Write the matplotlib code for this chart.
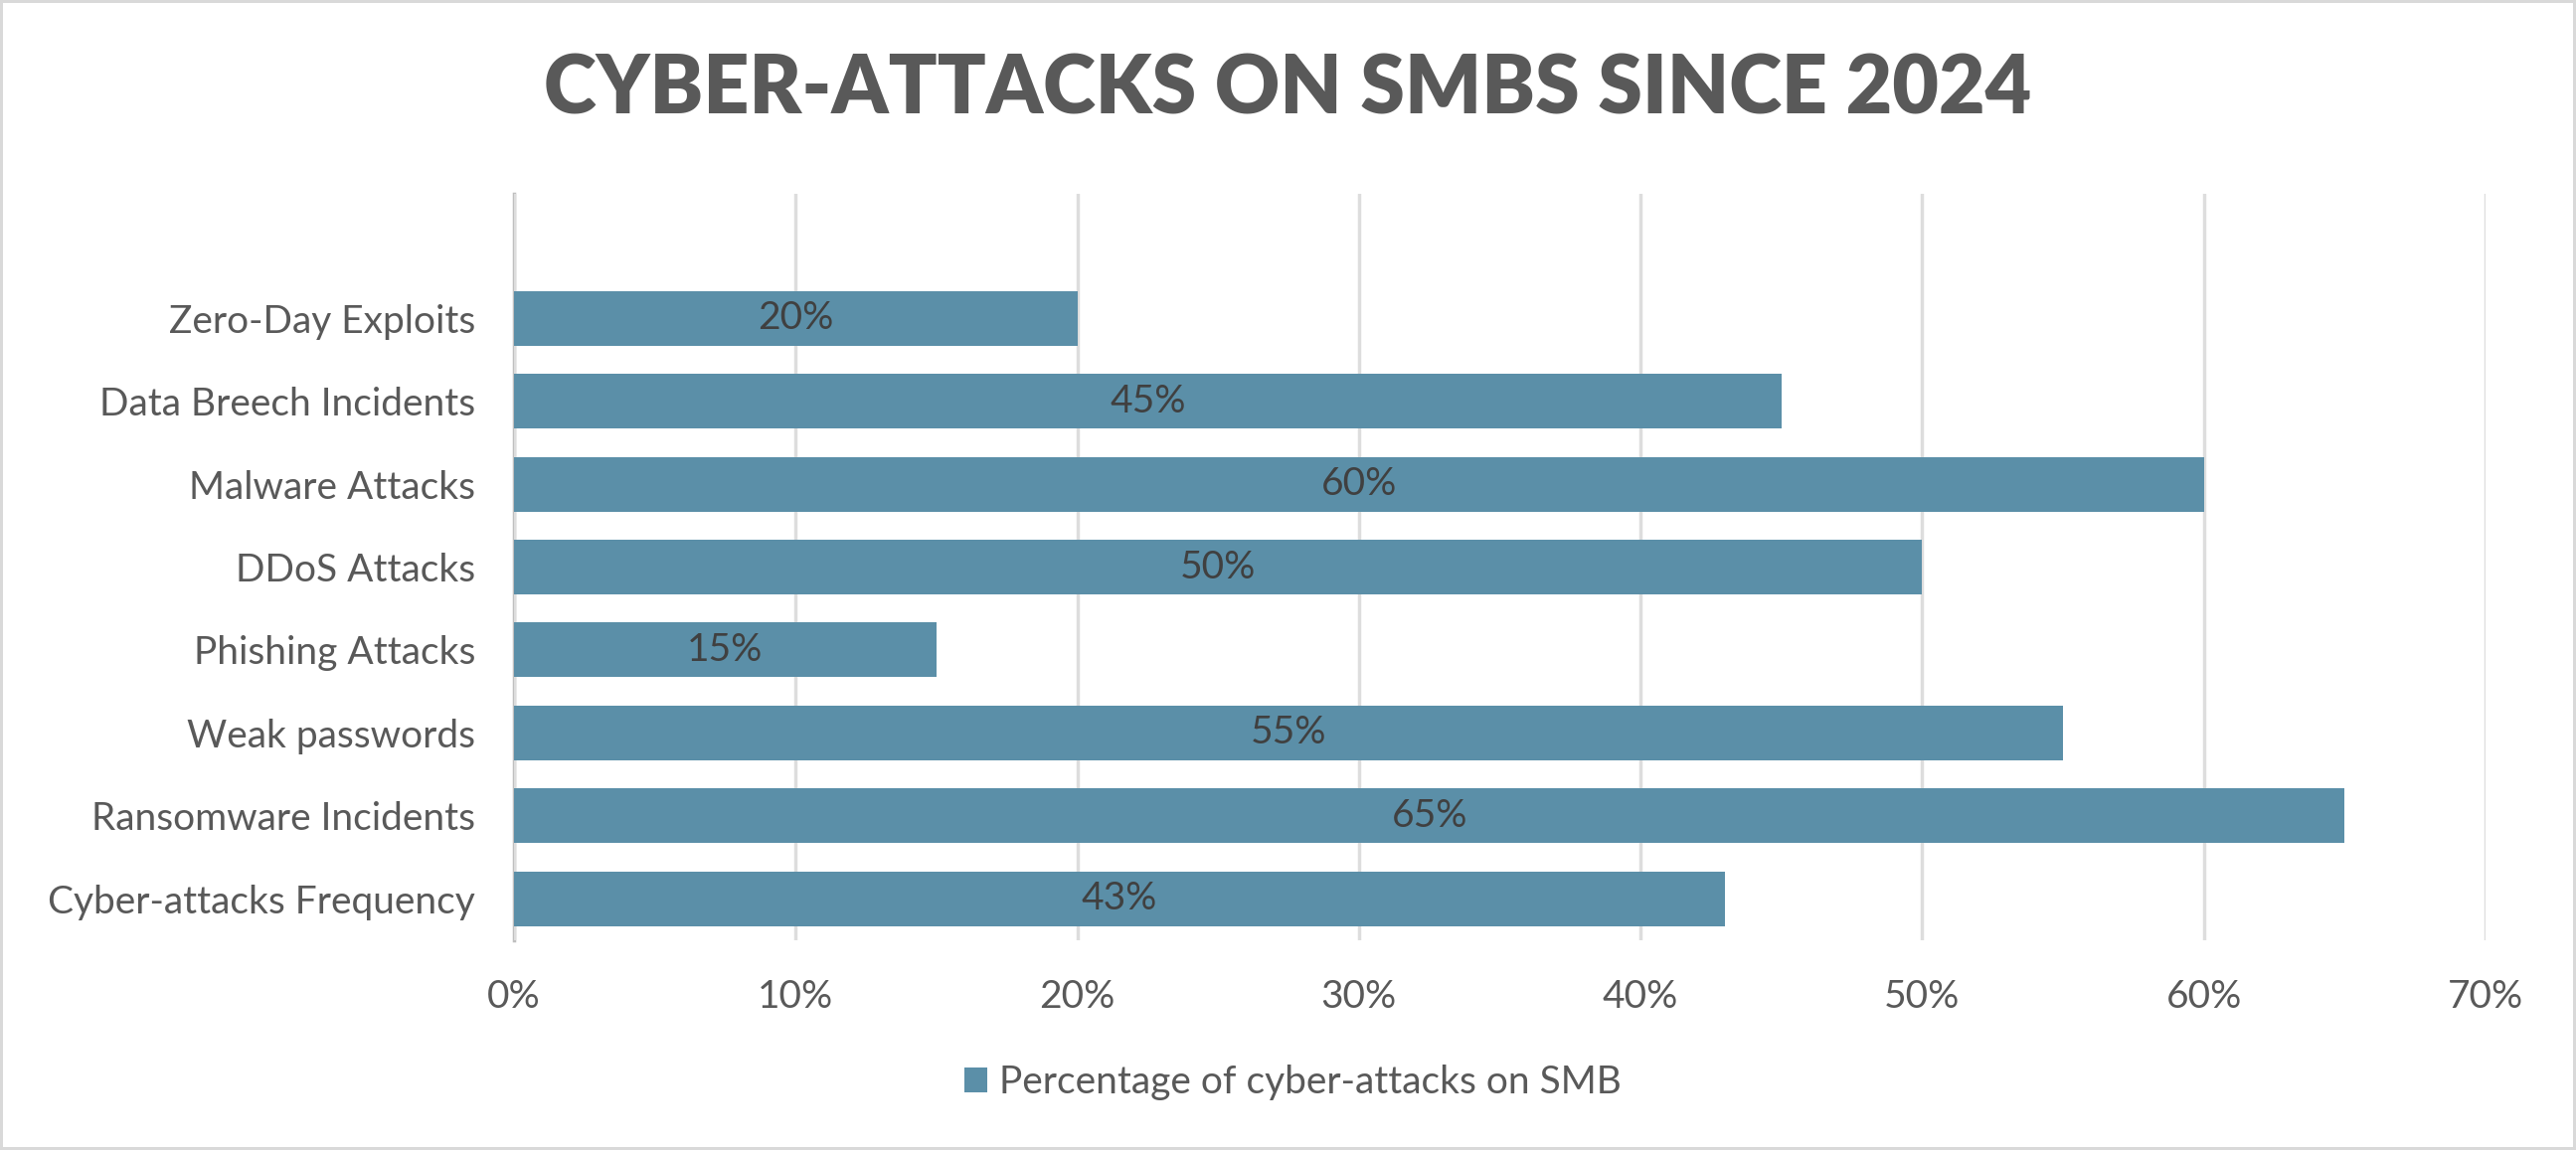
import matplotlib
matplotlib.use("Agg")
import matplotlib.pyplot as plt
from matplotlib.ticker import FuncFormatter, MultipleLocator

categories = ["Cyber-attacks Frequency", "Ransomware Incidents", "Weak passwords",
              "Phishing Attacks", "DDoS Attacks", "Malware Attacks",
              "Data Breech Incidents", "Zero-Day Exploits"]
values = [43, 65, 55, 15, 50, 60, 45, 20]
series_name = "Percentage of cyber-attacks on SMB"
title = "CYBER-ATTACKS ON SMBS SINCE 2024"

plt.rcParams['font.family'] = ['Lato', 'DejaVu Sans']
W, H = 2591, 1157
fig = plt.figure(figsize=(W / 100, H / 100), dpi=100)
fig.patch.set_facecolor("white")
fig.patch.set_edgecolor("#D9D9D9")
fig.patch.set_linewidth(3)

ax = fig.add_axes([517 / W, 1 - 946 / H, (2500 - 517) / W, (946 - 195) / H])
bar_color = "#5B8FA8"
text_color = "#595959"
bars = ax.barh(range(len(categories)), values, height=0.66, color=bar_color,
               label=series_name, zorder=2)
for i, v in enumerate(values):
    ax.text(v / 2, i, f"{v}%", ha="center", va="center", fontsize=28,
            color="#404040", zorder=3)

ax.set_xlim(0, 70)
ax.set_ylim(-0.5, len(categories) + 0.5)
ax.set_yticks(range(len(categories)))
ax.set_yticklabels(categories)
ax.xaxis.set_major_locator(MultipleLocator(10))
ax.xaxis.set_major_formatter(FuncFormatter(lambda x, p: f"{x:.0f}%"))
ax.tick_params(axis="both", length=0, labelsize=28, labelcolor=text_color)
ax.tick_params(axis="y", pad=28)
ax.tick_params(axis="x", pad=28)
ax.grid(axis="x", color="#DDDDDD", linewidth=2.5, zorder=0)
for s in ["top", "right", "bottom"]:
    ax.spines[s].set_visible(False)
ax.spines["left"].set_color("#BFBFBF")
ax.spines["left"].set_linewidth(2.5)
ax.spines["left"].set_zorder(1)

fig.text(0.5, 1 - 91 / H, title, ha="center", va="center", fontsize=58,
         fontweight="heavy", color=text_color)

leg = fig.legend(loc="center", bbox_to_anchor=(1300 / W, 1 - 1089 / H),
                 frameon=False, fontsize=28, handlelength=0.6, handleheight=0.6,
                 handletextpad=0.3, labelcolor=text_color)

fig.savefig("out.png", dpi=100, facecolor="white", edgecolor="#D9D9D9")
